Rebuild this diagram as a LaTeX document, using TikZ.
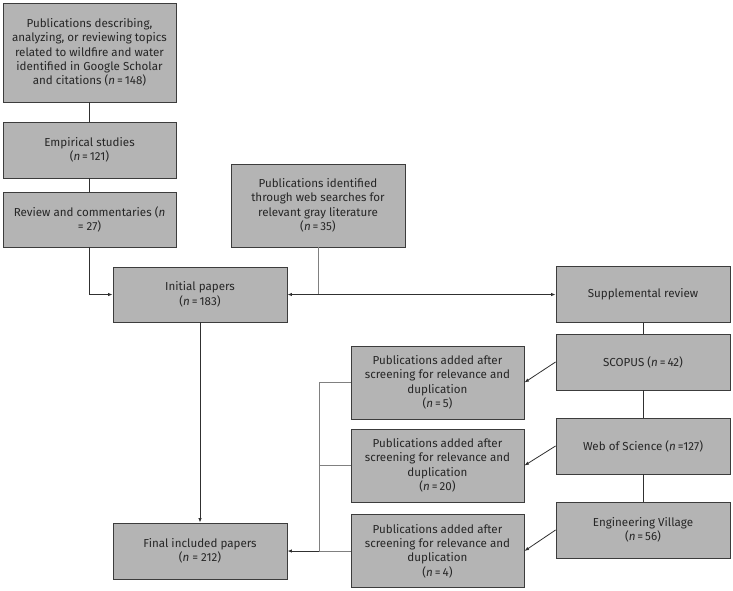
\documentclass[tikz,border=0pt]{standalone}
\usepackage{fontspec}
\setmainfont{Fira Sans}
\usetikzlibrary{arrows.meta,calc}
\newcommand{\nval}[1]{(\textit{n}\,=\,#1)}
\definecolor{boxfill}{HTML}{B4B4B4}
\definecolor{boxline}{HTML}{3C3C3C}
\definecolor{txt}{HTML}{262626}
\definecolor{lnA}{HTML}{303030}
\definecolor{lnB}{HTML}{808080}
\tikzset{
  box/.style={draw=boxline, fill=boxfill, line width=0.9pt, align=center,
    inner sep=1pt, text=txt, font=\fontsize{11.6}{14.4}\selectfont},
  lnk/.style={draw=lnA, line width=0.8pt},
  glnk/.style={draw=lnB, line width=1pt},
  tip/.style={-{Latex[length=4.5pt,width=3.5pt]}},
  tips/.style={{Latex[length=4.5pt,width=3.5pt]}-{Latex[length=4.5pt,width=3.5pt]}}
}
\begin{document}
\begin{tikzpicture}[x=1pt,y=-1pt]
\useasboundingbox (0,0) rectangle (733,590);

\node[box, minimum width=173pt, minimum height=99pt] (top) at (89.5,52.5)
  {Publications describing,\\ analyzing, or reviewing topics\\ related to wildfire and water\\ identified in Google Scholar\\ and citations \nval{148}};
\node[box, minimum width=173pt, minimum height=56pt] (emp) at (89.5,150)
  {Empirical studies\\ \nval{121}};
\node[box, minimum width=173pt, minimum height=55pt] (rev) at (89.5,219.5)
  {Review and commentaries (\textit{n}\\ = 27)};
\node[box, minimum width=174pt, minimum height=83pt] (gray) at (318,205.5)
  {Publications identified\\ through web searches for\\ relevant gray literature\\ \nval{35}};
\node[box, minimum width=174pt, minimum height=55pt] (init) at (200,294.5)
  {Initial papers\\ \nval{183}};
\node[box, minimum width=174pt, minimum height=56pt] (supp) at (643,294.5)
  {Supplemental review};
\node[box, minimum width=174pt, minimum height=56pt] (scop) at (643,362)
  {SCOPUS \nval{42}};
\node[box, minimum width=174pt, minimum height=56pt] (wos) at (643,446)
  {Web of Science (\textit{n}\,=127)};
\node[box, minimum width=174pt, minimum height=56pt] (ev) at (643,530)
  {Engineering Village\\ \nval{56}};
\node[box, minimum width=173pt, minimum height=73pt] (pubA) at (437.5,382.5)
  {Publications added after\\ screening for relevance and\\ duplication\\ \nval{5}};
\node[box, minimum width=173pt, minimum height=73pt] (pubB) at (437.5,465.5)
  {Publications added after\\ screening for relevance and\\ duplication\\ \nval{20}};
\node[box, minimum width=173pt, minimum height=73pt] (pubC) at (437.5,551)
  {Publications added after\\ screening for relevance and\\ duplication\\ \nval{4}};
\node[box, minimum width=174pt, minimum height=56pt] (final) at (200,551)
  {Final included papers\\ (\textit{n} = 212)};

% left column
\draw[lnk] (top.south) -- (emp.north);
\draw[lnk] (emp.south) -- (rev.north);
\draw[lnk,tip] (rev.south) |- (init.west);
\coordinate (j) at (gray.south |- init.east);
\draw[glnk] (gray.south) -- (j);
\draw[lnk,tips] (init.east) -- (supp.west);
\draw[lnk,tip] (init.south) -- (final.north);

% right column
\draw[lnk] (supp.south) -- (scop.north);
\draw[lnk] (scop.south) -- (wos.north);
\draw[lnk] (wos.south) -- (ev.north);
\draw[lnk,tip] (scop.west) -- (pubA.east);
\draw[lnk,tip] (wos.west) -- (pubB.east);
\draw[lnk,tip] (ev.west) -- (pubC.east);

% bus to final
\coordinate (b1) at (319,382.5);
\coordinate (b2) at (b1 |- pubB.west);
\coordinate (b3) at (b1 |- final.east);
\draw[glnk] (pubA.west) -- (b1) -- (b3) -- (pubC.west);
\draw[glnk] (pubB.west) -- (b2);
\draw[lnk,tip] (b3) -- (final.east);
\end{tikzpicture}
\end{document}
